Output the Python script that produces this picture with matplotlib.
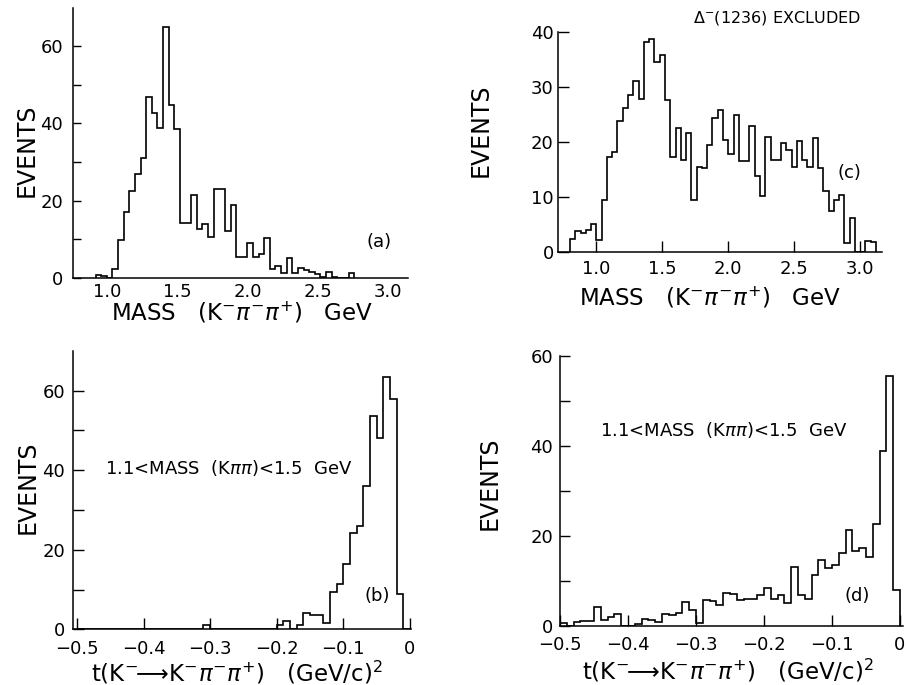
import matplotlib

matplotlib.use("Agg")

import matplotlib.pyplot as plt
import numpy as np

plt.rcParams["font.family"] = ["DejaVu Sans"]
plt.rcParams["mathtext.fontset"] = "dejavusans"

# K- pi- pi+ mass spectrum, all events (panel a), 40 MeV bins
mass_a_lo = 0.92
mass_a_width = 0.04
mass_a_counts = [
    0.8, 0.4, 0.0, 2.2, 9.8, 17.1, 22.5, 26.9, 30.9, 46.7,
    42.6, 38.7, 64.9, 44.7, 38.5, 14.1, 14.1, 21.4, 12.5, 13.9,
    10.6, 23.0, 23.0, 12.2, 18.9, 5.3, 5.3, 9.1, 5.3, 6.1,
    10.2, 2.2, 3.0, 1.3, 5.2, 1.3, 2.4, 1.9, 1.6, 0.9,
    0.3, 1.6, 0.3, 0.0, 0.0, 1.3,
]

# same spectrum with Delta-(1236) removed (panel c)
mass_c_lo = 0.80
mass_c_width = 0.04
mass_c_counts = [
    2.4, 3.8, 3.5, 4.0, 5.1, 2.2, 9.4, 17.3, 18.1, 23.8,
    26.2, 28.5, 31.1, 27.8, 38.3, 38.7, 34.5, 35.9, 27.7, 17.3,
    22.6, 16.8, 21.6, 9.4, 15.5, 15.3, 19.5, 24.3, 25.8, 20.4,
    17.9, 25.0, 16.5, 16.5, 22.9, 13.8, 10.2, 21.0, 16.7, 16.7,
    19.8, 18.5, 15.5, 20.1, 16.7, 15.5, 20.8, 15.3, 11.1, 7.5,
    9.4, 10.3, 1.6, 6.1, 0.0, 0.0, 2.0, 1.8,
]

# momentum transfer t, 0.01 (GeV/c)^2 bins from -0.5 to 0
t_lo = -0.5
t_width = 0.01
t_b_counts = [
    0, 0, 0, 0, 0, 0, 0, 0, 0, 0,
    0, 0, 0, 0, 0, 0, 0, 0, 0, 1.0,
    0, 0, 0, 0, 0, 0, 0, 0, 0, 0,
    1.0, 2.2, 0.0, 1.0, 4.2, 3.6, 3.6, 1.5, 9.4, 11.3,
    16.3, 24.3, 25.9, 36.0, 53.5, 48.0, 63.3, 57.9, 8.8, 0.0,
]
t_d_counts = [
    0.7, 0.0, 0.8, 1.1, 1.1, 4.2, 1.3, 2.1, 2.7, 0.0,
    0.0, 0.5, 1.6, 1.3, 1.0, 2.7, 2.4, 2.9, 5.3, 3.5,
    0.7, 5.7, 5.5, 4.7, 7.3, 7.2, 5.8, 5.9, 5.9, 6.9,
    8.5, 6.1, 6.9, 5.2, 13.2, 6.9, 5.9, 11.3, 14.7, 13.0,
    13.6, 16.3, 21.3, 16.7, 17.3, 15.4, 22.6, 39.0, 55.6, 8.1,
]

mass_ticks = [1.0, 1.5, 2.0, 2.5, 3.0]
mass_tick_labels = ["1.0", "1.5", "2.0", "2.5", "3.0"]
t_ticks = [-0.5, -0.4, -0.3, -0.2, -0.1, 0.0]
t_tick_labels = ["\u22120.5", "\u22120.4", "\u22120.3", "\u22120.2", "\u22120.1", "0"]

MASS_LABEL = r"MASS   (K$^{-}\pi^{-}\pi^{+}$)   GeV"
T_LABEL = r"t(K$^{-}\!\!\longrightarrow\!$K$^{-}\pi^{-}\pi^{+}$)   (GeV/c)$^{2}$"
CUT_LABEL = r"1.1<MASS  (K$\pi\pi$)<1.5  GeV"

W, H = 907, 685
fig = plt.figure(figsize=(W / 100, H / 100), dpi=100)


def add_axes_px(left, right, bottom, top):
    return fig.add_axes([left / W, 1 - bottom / H, (right - left) / W, (bottom - top) / H])


def edges_for(lo, width, counts):
    return lo + width * np.arange(len(counts) + 1)


def style(ax, ypad, xpad, ylen, xlen):
    for side in ("top", "right"):
        ax.spines[side].set_visible(False)
    for side in ("left", "bottom"):
        ax.spines[side].set_linewidth(1.1)
    ax.tick_params(axis="y", which="both", direction="in", length=ylen, width=1.0,
                   pad=ypad, labelsize=13)
    ax.tick_params(axis="x", which="both", direction="in", length=xlen, width=1.0,
                   pad=xpad, labelsize=13)


def fig_text(x, y, s, **kw):
    fig.text(x / W, 1 - y / H, s, ha="center", va="center", **kw)


hist_kw = dict(color="black", linewidth=1.2, fill=False, baseline=0)

# (a)
ax_a = add_axes_px(72.7, 408, 277.7, 7.5)
ax_a.stairs(mass_a_counts, edges_for(mass_a_lo, mass_a_width, mass_a_counts), **hist_kw)
ax_a.set_xlim(0.757, 3.143)
ax_a.set_ylim(0, 70)
ax_a.set_yticks([0, 20, 40, 60])
ax_a.set_yticks([10, 30, 50], minor=True)
ax_a.set_xticks(mass_ticks, mass_tick_labels)
style(ax_a, ypad=7, xpad=4, ylen=6, xlen=0)
ax_a.text(2.937, 9.2, "(a)", ha="center", va="center", fontsize=13)

# (c)
ax_c = add_axes_px(558, 881.7, 251.7, 32.3)
ax_c.stairs(mass_c_counts, edges_for(mass_c_lo, mass_c_width, mass_c_counts), **hist_kw)
ax_c.set_xlim(0.709, 3.163)
ax_c.set_ylim(0, 40)
ax_c.set_yticks([0, 10, 20, 30, 40])
ax_c.set_xticks(mass_ticks, mass_tick_labels)
style(ax_c, ypad=3, xpad=6, ylen=8, xlen=8)
ax_c.text(1.733, 42.6, r"$\Delta^{-}$(1236) EXCLUDED", ha="left", va="center",
          fontsize=11.5, clip_on=False)
ax_c.text(2.915, 14.4, "(c)", ha="center", va="center", fontsize=13)

# (b)
ax_b = add_axes_px(73.3, 410.5, 629.3, 350.7)
ax_b.stairs(t_b_counts, edges_for(t_lo, t_width, t_b_counts), **hist_kw)
ax_b.set_xlim(-0.5055, 0.001)
ax_b.set_ylim(0, 70)
ax_b.set_yticks([0, 20, 40, 60])
ax_b.set_yticks([10, 30, 50], minor=True)
ax_b.set_xticks(t_ticks, t_tick_labels)
style(ax_b, ypad=6, xpad=8, ylen=8, xlen=8)
ax_b.text(-0.4575, 40.5, CUT_LABEL, ha="left", va="center", fontsize=13)
ax_b.text(-0.0495, 8.4, "(b)", ha="center", va="center", fontsize=13)

# (d)
ax_d = add_axes_px(560, 903.3, 626, 356)
ax_d.stairs(t_d_counts, edges_for(t_lo, t_width, t_d_counts), **hist_kw)
ax_d.set_xlim(-0.5, 0.005)
ax_d.set_ylim(0, 60)
ax_d.set_yticks([0, 20, 40, 60])
ax_d.set_yticks([10, 30, 50], minor=True)
ax_d.set_xticks(t_ticks, t_tick_labels)
style(ax_d, ypad=5, xpad=7, ylen=7, xlen=8)
ax_d.text(-0.441, 43.6, CUT_LABEL, ha="left", va="center", fontsize=13)
ax_d.text(-0.063, 6.7, "(d)", ha="center", va="center", fontsize=13)

# axis titles
for x, y in [(27, 150), (481, 130), (28, 487), (490, 483)]:
    fig_text(x, y, "EVENTS", rotation=90, fontsize=17)
fig_text(242, 313, MASS_LABEL, fontsize=16.5)
fig_text(710, 298, MASS_LABEL, fontsize=16.5)
fig_text(237, 673, T_LABEL, fontsize=16.5)
fig_text(728, 671, T_LABEL, fontsize=16.5)

fig.savefig("out.png", dpi=100, facecolor="white")
